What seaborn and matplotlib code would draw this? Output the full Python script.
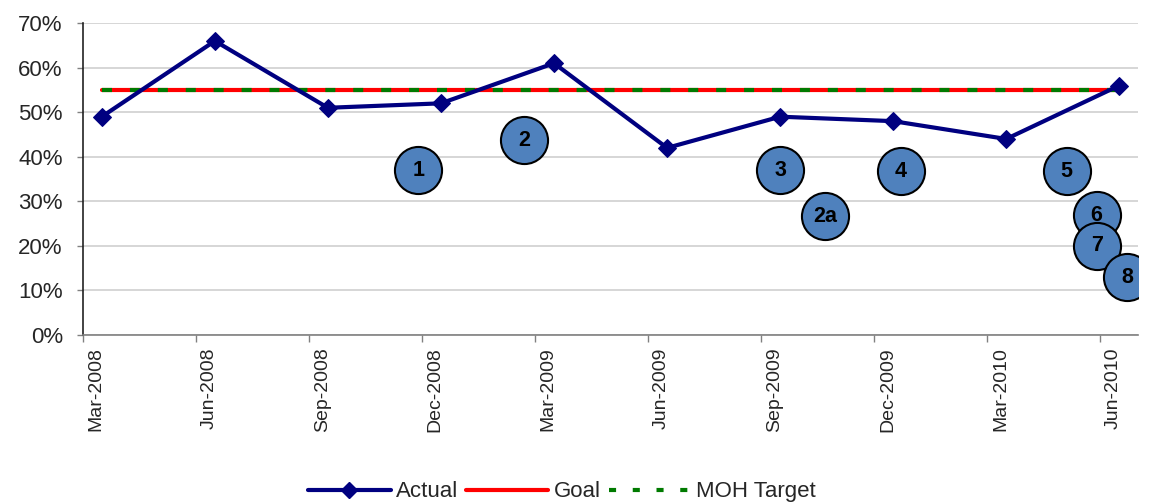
import matplotlib
matplotlib.use("Agg")
import matplotlib.pyplot as plt
from matplotlib.lines import Line2D
import seaborn as sns
import pandas as pd
import numpy as np

# Quarterly reporting periods and measured rate (%)
periods = ["Mar-2008", "Jun-2008", "Sep-2008", "Dec-2008", "Mar-2009",
           "Jun-2009", "Sep-2009", "Dec-2009", "Mar-2010", "Jun-2010"]
actual = [49, 66, 51, 52, 61, 42, 49, 48, 44, 56]
goal = [55] * len(periods)
moh_target = [55] * len(periods)

# Numbered intervention markers: (label, month offset from Mar-2008, value %)
marker_labels = ["1", "2", "3", "2a", "4", "5", "6", "7", "8"]
marker_month = [8.9, 11.7, 18.5, 19.7, 21.7, 26.1, 26.9, 26.9, 27.7]
marker_value = [37, 43.7, 37, 26.7, 36.8, 36.8, 26.9, 20, 13]

sns.set_style("white")
plt.rcParams["font.family"] = ["Liberation Sans", "DejaVu Sans"]

# Ticks fall on the first of each quarter month; readings sit mid-month
tick_pos = np.arange(len(periods)) * 3
data_x = tick_pos + 0.5

df = pd.DataFrame({"x": data_x, "Actual": actual, "Goal": goal, "MOH Target": moh_target})

fig = plt.figure(figsize=(11.57, 5.03), dpi=100)
ax = fig.add_axes([0.0717, 0.334, 0.912, 0.62])

navy = "#000080"
red = "#FF0000"
green = "#007A00"

sns.lineplot(data=df, x="x", y="Goal", ax=ax, color=red, linewidth=3, zorder=3)
sns.lineplot(data=df, x="x", y="MOH Target", ax=ax, color=green, linewidth=3,
             zorder=4).lines[-1].set_dashes((2.4, 4.3))
sns.lineplot(data=df, x="x", y="Actual", ax=ax, color=navy, linewidth=3,
             marker="D", markersize=9, markeredgecolor=navy, zorder=5)

# Intervention circles
for lab, mx, my in zip(marker_labels, marker_month, marker_value):
    ax.scatter([mx], [my], s=1150, color="#4F81BD", edgecolor="black",
               linewidth=1.5, zorder=6)
    ax.text(mx, my, lab, ha="center", va="center", fontsize=15.5,
            fontweight="bold", color="black", zorder=7)

ax.set_xlim(0, 28)
ax.set_ylim(0, 70)
ax.set_yticks(range(0, 71, 10))
ax.set_yticklabels([f"{v}%" for v in range(0, 71, 10)], fontsize=16)

# Tick marks on the quarter boundaries; the period names sit just to the right
ax.set_xticks(tick_pos)
ax.set_xticklabels([])
ax.set_xticks(tick_pos + 0.35, minor=True)
ax.set_xticklabels(periods, minor=True, rotation=90, fontsize=14)
ax.set_xlabel("")
ax.set_ylabel("")

ax.yaxis.grid(True, which="major", color="#D0D0D0", linewidth=1.2)
ax.set_axisbelow(True)
for side in ["top", "right"]:
    ax.spines[side].set_visible(False)
ax.spines["left"].set_color("#222222")
ax.spines["bottom"].set_color("#808080")
ax.spines["left"].set_linewidth(1.2)
ax.spines["bottom"].set_linewidth(1.2)
ax.tick_params(axis="y", direction="out", length=4.5, width=1,
               color="#808080", left=True, pad=10)
ax.tick_params(axis="x", which="major", direction="out", length=5, width=1,
               color="#808080", bottom=True)
ax.tick_params(axis="x", which="minor", length=0, bottom=True, pad=9)

handles = [
    Line2D([], [], color=navy, linewidth=3, marker="D", markersize=8),
    Line2D([], [], color=red, linewidth=3),
    Line2D([], [], color=green, linewidth=3, dashes=(1.7, 4.0)),
]
fig.legend(handles, ["Actual", "Goal", "MOH Target"], loc="center",
           bbox_to_anchor=(0.486, 0.022), ncol=3, frameon=False, fontsize=16,
           handlelength=3.7, handletextpad=0.25, columnspacing=0.35,
           borderpad=0)

fig.savefig("out.png", dpi=100)
